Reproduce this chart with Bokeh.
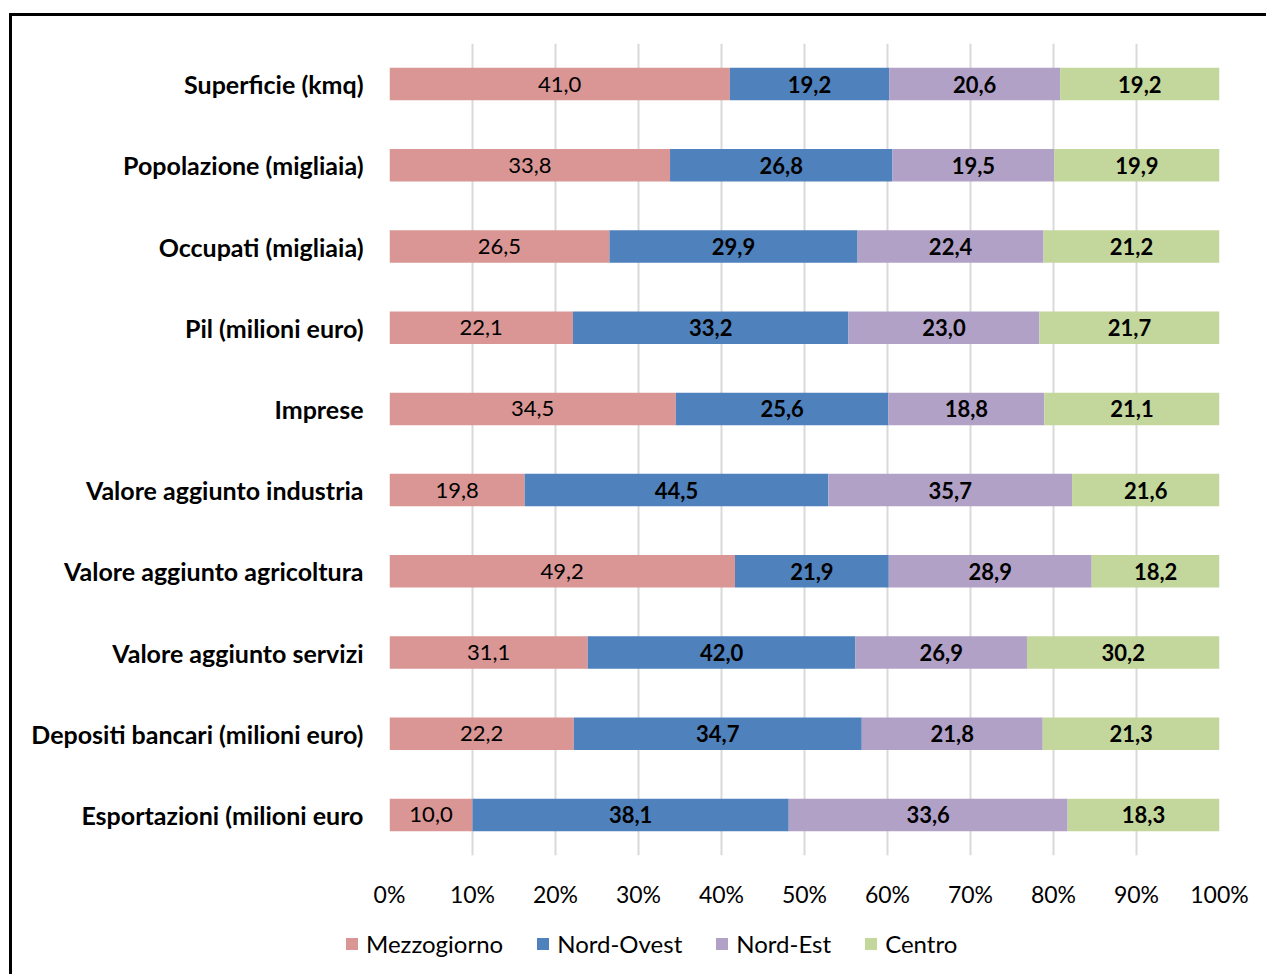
from bokeh.plotting import figure
from bokeh.layouts import column
from bokeh.models import (ColumnDataSource, FactorRange, Legend, LegendItem,
                          FixedTicker, CustomJSTickFormatter)
from bokeh.core.properties import value
from bokeh.embed import file_html
from bokeh.resources import INLINE

# Indicators (top to bottom) and regional values
categories = [
    "Superficie (kmq)",
    "Popolazione (migliaia)",
    "Occupati (migliaia)",
    "Pil (milioni euro)",
    "Imprese",
    "Valore aggiunto industria",
    "Valore aggiunto agricoltura",
    "Valore aggiunto servizi",
    "Depositi bancari (milioni euro)",
    "Esportazioni (milioni euro",
]
regions = ["Mezzogiorno", "Nord-Ovest", "Nord-Est", "Centro"]
mezzogiorno = [41.0, 33.8, 26.5, 22.1, 34.5, 19.8, 49.2, 31.1, 22.2, 10.0]
nord_ovest = [19.2, 26.8, 29.9, 33.2, 25.6, 44.5, 21.9, 42.0, 34.7, 38.1]
nord_est = [20.6, 19.5, 22.4, 23.0, 18.8, 35.7, 28.9, 26.9, 21.8, 33.6]
centro = [19.2, 19.9, 21.2, 21.7, 21.1, 21.6, 18.2, 30.2, 21.3, 18.3]
x_ticks = [0, 10, 20, 30, 40, 50, 60, 70, 80, 90, 100]

colors = ["#D99694", "#4F81BD", "#B2A1C7", "#C3D69B"]
label_weights = ["normal", "bold", "bold", "bold"]
FONT = "Lato"
WIDTH = 1254

series = [mezzogiorno, nord_ovest, nord_est, centro]
totals = [sum(vals) for vals in zip(*series)]

p = figure(
    width=WIDTH, height=900,
    y_range=FactorRange(*reversed(categories)),
    x_range=(0, 100),
    output_backend="svg", toolbar_location=None,
    min_border_left=377, min_border_right=WIDTH - 1207,
    min_border_top=27, min_border_bottom=61,
)
p.outline_line_color = None
p.background_fill_color = "white"
p.border_fill_color = "white"

# Legend strip below the chart (shares the chart's ranges, no axes)
lf = figure(width=WIDTH, height=58, x_range=p.x_range, y_range=p.y_range,
            output_backend="svg", toolbar_location=None,
            x_axis_location=None, y_axis_location=None,
            min_border=0, min_border_left=0, min_border_right=0,
            min_border_top=0, min_border_bottom=0)
lf.grid.grid_line_color = None
lf.outline_line_color = None
lf.border_fill_color = "white"
lf.background_fill_color = "white"

# 100% stacked segments, each row normalised to its own total
left = [0.0] * len(categories)
items = []
for name, vals, col, weight in zip(regions, series, colors, label_weights):
    share = [v / t * 100 for v, t in zip(vals, totals)]
    right = [l + s for l, s in zip(left, share)]
    mid = [(l + r) / 2 for l, r in zip(left, right)]
    src = ColumnDataSource(dict(
        cat=categories, left=left, right=right, mid=mid,
        label=[f"{v:.1f}".replace(".", ",") for v in vals],
    ))
    p.hbar(y="cat", left="left", right="right", height=0.4, source=src,
           fill_color=col, line_color=None)
    p.text(x="mid", y="cat", text="label", source=src,
           text_align="center", text_baseline="middle",
           text_font=value(FONT), text_font_size="22px",
           text_font_style=weight, text_color="black")
    # hidden twin in the legend strip, used only for its swatch
    swatch = lf.hbar(y="cat", left="left", right="right", height=0.4,
                     source=src, fill_color=col, line_color=None,
                     visible=False)
    items.append(LegendItem(label=name, renderers=[swatch]))
    left = right

# Axes and grid
p.xaxis.ticker = FixedTicker(ticks=x_ticks)
p.xaxis.formatter = CustomJSTickFormatter(code="return tick + '%'")
p.xaxis.axis_line_color = None
p.xaxis.major_tick_line_color = None
p.xaxis.minor_tick_line_color = None
p.xaxis.major_tick_out = 0
p.xaxis.minor_tick_out = 0
p.xaxis.major_label_standoff = 24
p.xaxis.major_label_text_font = FONT
p.xaxis.major_label_text_font_size = "23px"
p.xaxis.major_label_text_color = "black"

p.yaxis.axis_line_color = None
p.yaxis.major_tick_line_color = None
p.yaxis.major_tick_out = 0
p.yaxis.major_label_standoff = 26
p.yaxis.major_label_text_font = FONT
p.yaxis.major_label_text_font_size = "25px"
p.yaxis.major_label_text_font_style = "bold"
p.yaxis.major_label_text_color = "black"

p.xgrid.ticker = FixedTicker(ticks=x_ticks)
p.xgrid.grid_line_color = "#D9D9D9"
p.xgrid.grid_line_width = 2
p.ygrid.grid_line_color = None

legend = Legend(items=items, orientation="horizontal",
                location=(332, 16), margin=0, padding=0,
                glyph_width=15, glyph_height=15, label_standoff=7,
                spacing=32, label_height=26,
                label_text_font=FONT, label_text_font_size="24px",
                label_text_color="black",
                border_line_color=None, background_fill_alpha=0)
lf.add_layout(legend, "center")

# Black frame (left and top edges) on the outer containers
chart_box = column(p, spacing=0, styles={
    "margin-left": "9px", "margin-top": "13px",
    "border-left": "3px solid black", "border-top": "3px solid black",
})
legend_box = column(lf, spacing=0, styles={
    "margin-left": "9px", "border-left": "3px solid black",
})

open("out.html", "w").write(file_html([chart_box, legend_box], INLINE))
